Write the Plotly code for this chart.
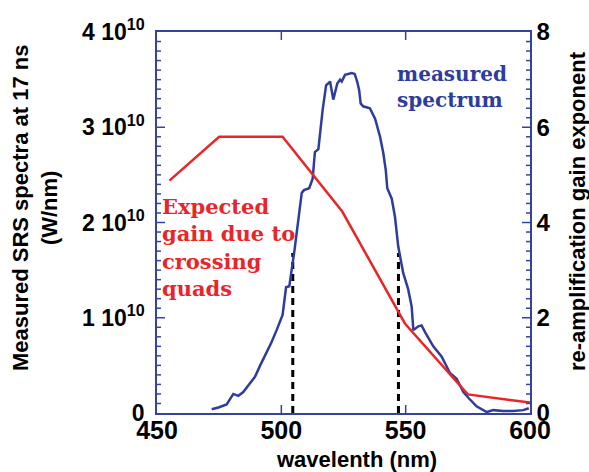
import plotly.graph_objects as go

# measured spectrum (wavelength nm, power in units of 1e10 W/nm)
spec_x = [472.0, 475.0, 478.0, 480.7, 482.7, 484.7, 487.0, 489.4, 491.5, 494.1, 496.0, 498.1,
          500.5, 501.9, 503.2, 505.3, 508.2, 509.1, 511.2, 512.6, 513.5, 514.9, 516.6, 518.0,
          519.6, 520.9, 522.5, 523.6, 524.3, 525.6, 528.3, 529.5, 530.5, 531.3, 531.9, 532.9,
          535.6, 537.7, 539.7, 541.0, 542.0, 542.6, 544.4, 545.7, 547.0, 549.0, 551.0, 552.4,
          553.1, 555.1, 556.4, 557.8, 561.1, 564.5, 567.8, 570.5, 573.2, 575.2, 578.5, 582.6,
          585.2, 589.2, 593.3, 597.3, 599.5]
spec_y = [0.04, 0.06, 0.09, 0.20, 0.18, 0.22, 0.30, 0.38, 0.50, 0.63, 0.74, 0.87,
          1.03, 1.32, 1.33, 1.71, 2.31, 2.34, 2.36, 2.46, 2.74, 2.77, 3.18, 3.44,
          3.48, 3.29, 3.46, 3.50, 3.48, 3.55, 3.57, 3.56, 3.48, 3.39, 3.25, 3.22,
          3.20, 3.09, 2.90, 2.73, 2.55, 2.36, 2.25, 2.06, 1.75, 1.47, 1.30, 1.12,
          0.87, 0.91, 0.92, 0.85, 0.70, 0.59, 0.42, 0.36, 0.22, 0.16, 0.07, 0.01,
          0.03, 0.02, 0.02, 0.03, 0.05]

# expected gain (right axis)
gain_x = [455, 475, 500.5, 524.5, 549.7, 575, 600]
gain_y = [4.88, 5.80, 5.80, 4.23, 1.88, 0.39, 0.22]

# dashed markers
dash_x = [504.6, 547.1]
dash_top = 1.68

left_tickvals = [0, 1, 2, 3, 4]
left_ticktext = ["0", "1 10<sup>10</sup>", "2 10<sup>10</sup>", "3 10<sup>10</sup>", "4 10<sup>10</sup>"]
left_minor = [round(i / 10, 2) for i in range(1, 40)]
right_tickvals = [0, 2, 4, 6, 8]
right_minor = [round(i / 5, 2) for i in range(1, 40)]
x_tickvals = [450, 500, 550, 600]

BLUE = "#2e3c9c"
AXC = "#34439c"
RED = "#e8262a"
SANS = "Liberation Sans"
SERIF = "DejaVu Serif"

fig = go.Figure()
for dx in dash_x:
    fig.add_trace(go.Scatter(x=[dx, dx], y=[0, dash_top], mode="lines",
                             line=dict(color="black", width=3, dash="7px,5px"),
                             showlegend=False, hoverinfo="skip"))
fig.add_trace(go.Scatter(x=spec_x, y=spec_y, mode="lines",
                         line=dict(color=BLUE, width=2.5), showlegend=False))
fig.add_trace(go.Scatter(x=gain_x, y=gain_y, mode="lines", yaxis="y2",
                         line=dict(color=RED, width=2.5), showlegend=False))

fig.update_layout(
    template="none",
    width=589, height=472,
    margin=dict(l=157, r=59, t=32, b=59),
    paper_bgcolor="white", plot_bgcolor="white",
    xaxis=dict(range=[450, 600], tickmode="array", tickvals=x_tickvals, ticks="",
               showline=True, linecolor=AXC, linewidth=1.5, mirror=True,
               showgrid=False, zeroline=False, ticklabelstandoff=-6,
               tickfont=dict(family=SANS, size=25, color="black", weight="bold")),
    yaxis=dict(range=[0, 4], tickmode="array", tickvals=left_tickvals, ticktext=left_ticktext,
               ticks="", showline=True, linecolor=AXC, linewidth=1.5,
               showgrid=False, zeroline=False, ticklabelstandoff=6,
               tickfont=dict(family=SANS, size=23, color="black", weight="bold")),
    yaxis2=dict(range=[0, 8], tickmode="array", tickvals=right_tickvals,
                overlaying="y", side="right", ticks="", showline=True,
                linecolor=AXC, linewidth=1.5, showgrid=False, zeroline=False,
                tickfont=dict(family=SANS, size=24, color="black", weight="bold")),
)

# tick marks drawn as pixel-sized shapes anchored at the tick values
tick_line = dict(color=AXC, width=1.5)
for v in left_minor:
    ln = 8 if v in left_tickvals else 4
    fig.add_shape(type="line", xref="x", yref="y", xsizemode="pixel", xanchor=450,
                  x0=0, x1=ln, y0=v, y1=v, line=tick_line, layer="above")
for v in right_minor:
    ln = 8 if v in right_tickvals else 4
    fig.add_shape(type="line", xref="x", yref="y2", xsizemode="pixel", xanchor=600,
                  x0=0, x1=-ln, y0=v, y1=v, line=tick_line, layer="above")
for v in x_tickvals[1:-1]:
    fig.add_shape(type="line", xref="x", yref="y", ysizemode="pixel", yanchor=0,
                  x0=v, x1=v, y0=0, y1=8, line=tick_line, layer="above")
    fig.add_shape(type="line", xref="x", yref="y", ysizemode="pixel", yanchor=4,
                  x0=v, x1=v, y0=0, y1=-8, line=tick_line, layer="above")

fig.add_annotation(text="Measured SRS spectra at 17 ns<br>(W/nm)", textangle=-90,
                   xref="paper", yref="paper", x=-0.327, y=0.538, showarrow=False,
                   xanchor="center", yanchor="middle",
                   font=dict(family=SANS, size=22, color="black", weight="bold"))
fig.add_annotation(text="re-amplification gain exponent", textangle=-90,
                   xref="paper", yref="paper", x=1.126, y=0.530, showarrow=False,
                   xanchor="center", yanchor="middle",
                   font=dict(family=SANS, size=22, color="black", weight="bold"))
fig.add_annotation(text="wavelenth (nm)", xref="paper", yref="paper", x=0.534, y=-0.123,
                   showarrow=False, xanchor="center", yanchor="middle",
                   font=dict(family=SANS, size=22, color="black", weight="bold"))
fig.add_annotation(text="measured<br>spectrum", xref="x", yref="y", x=545.7, y=3.42,
                   xanchor="left", yanchor="middle", align="left", showarrow=False,
                   font=dict(family=SERIF, size=20, color=BLUE, weight="bold"))
fig.add_annotation(text="Expected<br>gain due to<br>crossing<br>quads", xref="x", yref="y",
                   x=451.2, y=1.74, xanchor="left", yanchor="middle", align="left",
                   showarrow=False,
                   font=dict(family=SERIF, size=21, color=RED, weight="bold"))

fig.write_html("out.html")
